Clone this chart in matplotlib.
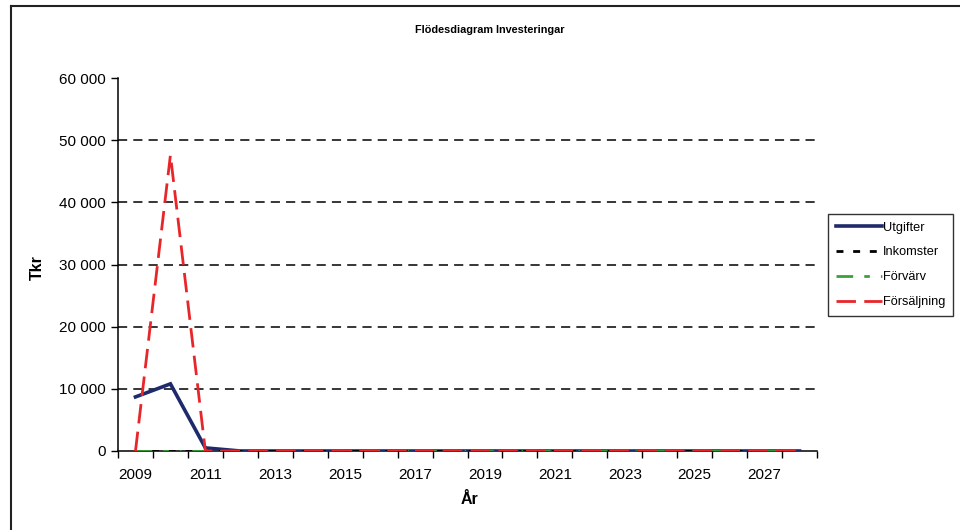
import matplotlib
matplotlib.use("Agg")
import matplotlib.pyplot as plt
from matplotlib.lines import Line2D

plt.rcParams['font.family'] = ['Liberation Sans', 'DejaVu Sans']

years = list(range(2009, 2029))
utgifter = [8700, 10800, 500, 0, 0, 0, 0, 0, 0, 0, 0, 0, 0, 0, 0, 0, 0, 0, 0, 0]
inkomster = [0] * 20
forvarv = [0] * 20
forsaljning = [0, 47600, 0, 0, 0, 0, 0, 0, 0, 0, 0, 0, 0, 0, 0, 0, 0, 0, 0, 0]
yticks = [0, 10000, 20000, 30000, 40000, 50000, 60000]
ytick_labels = ["0", "10 000", "20 000", "30 000", "40 000", "50 000", "60 000"]

fig = plt.figure(figsize=(9.6, 5.3), dpi=100)
W, H = 960, 530
ax = fig.add_axes([118 / W, 1 - 451 / H, (817 - 118) / W, (451 - 78) / H])

x = list(range(len(years)))
ax.plot(x, utgifter, color='#1e2a6b', lw=2.6, solid_joinstyle='miter', label='Utgifter', zorder=3)
ax.plot(x, inkomster, color='black', lw=2.0, dashes=(2.5, 3.5), label='Inkomster', zorder=4)
ax.plot(x, forvarv, color='#3aa13a', lw=2.0, dashes=(6, 4, 2, 4, 0.5, 4), label='Förvärv', zorder=5)
ax.plot(x, forsaljning, color='#e8262a', lw=2.0, dashes=(7, 3), label='Försäljning', zorder=6)

ax.set_xlim(-0.5, len(years) - 0.5)
ax.set_ylim(0, 60000)

# gridlines
for v in yticks[1:-1]:
    ax.axhline(v, color='black', lw=1.1, dashes=(6, 4), zorder=1)

ax.set_yticks(yticks)
ax.set_yticklabels(ytick_labels, fontsize=11)
ax.tick_params(axis='y', direction='out', length=5, width=1, pad=4)

ax.set_xticks([i - 0.5 for i in range(len(years) + 1)])
ax.set_xticklabels([])
ax.set_xticks(x[::2], minor=True)
ax.set_xticklabels([str(y) for y in years[::2]], minor=True, fontsize=11)
ax.tick_params(axis='x', which='major', direction='out', length=5, width=1)
ax.tick_params(axis='x', which='minor', length=0, pad=12)

for s in ['top', 'right']:
    ax.spines[s].set_visible(False)
for s in ['left', 'bottom']:
    ax.spines[s].set_linewidth(1.1)

fig.text(490 / W, 1 - 30 / H, 'Flödesdiagram Investeringar', fontsize=7.8, fontweight='bold',
         ha='center', va='center')
fig.text(37 / W, 1 - 268 / H, 'Tkr', fontsize=11.5, fontweight='bold', rotation=90,
         ha='center', va='center')
fig.text(470 / W, 1 - 500 / H, 'År', fontsize=11.5, fontweight='bold', ha='center', va='center')

leg = ax.legend(loc='upper left', bbox_to_anchor=(828 / W, 1 - 214 / H),
                bbox_transform=fig.transFigure, fontsize=9.2, frameon=True,
                fancybox=False, edgecolor='black', handlelength=3.6, handletextpad=0.1,
                labelspacing=1.0, borderpad=0.6, borderaxespad=0)
leg.get_frame().set_linewidth(1.0)

# scanned page border
fig.add_artist(Line2D([11 / W, 11 / W], [0, 1 - 6 / H], color='#222222', lw=1.5,
                      transform=fig.transFigure))
fig.add_artist(Line2D([11 / W, 1], [1 - 6 / H, 1 - 6 / H], color='#222222', lw=1.5,
                      transform=fig.transFigure))

fig.savefig('out.png', dpi=100)
